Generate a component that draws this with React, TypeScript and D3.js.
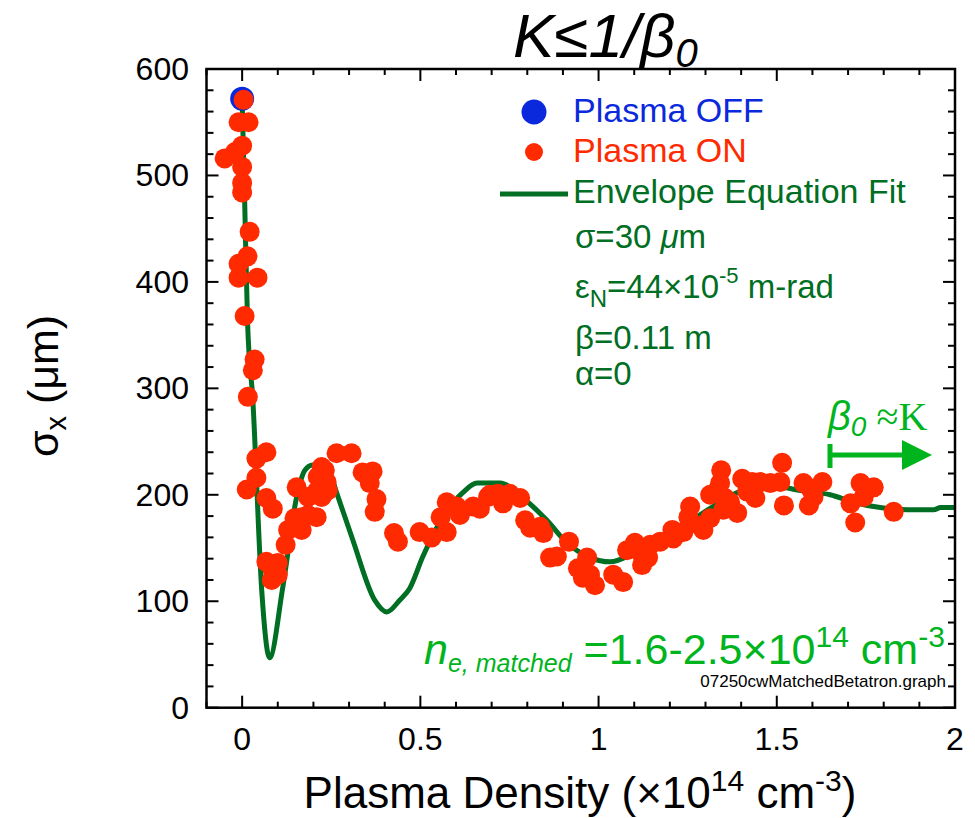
import React from 'react';
import * as d3 from 'd3';

const offX = [0.0];
const offY = [572];

const onX = [0.004, -0.01, 0.018, 0.0, -0.02, -0.049, 0.0, 0.0, 0.0, 0.021, 0.015, -0.01, -0.01, 0.043, 0.007, 0.035, 0.03, 0.016, 0.04, 0.068,
  0.04, 0.013, 0.068, 0.086, 0.068, 0.1, 0.086, 0.1, 0.083, 0.122, 0.129, 0.147, 0.167, 0.167, 0.185, 0.209, 0.153, 0.185, 0.209, 0.223,
  0.24, 0.237, 0.212, 0.232, 0.223, 0.265, 0.307, 0.338, 0.366, 0.358, 0.377, 0.372, 0.426, 0.437, 0.498, 0.532, 0.574, 0.557, 0.574, 0.602,
  0.611, 0.648, 0.69, 0.667, 0.695, 0.718, 0.732, 0.751, 0.78, 0.794, 0.808, 0.836, 0.845, 0.864, 0.883, 0.917, 0.942, 0.968, 0.956, 0.976,
  0.99, 1.041, 1.069, 1.08, 1.102, 1.117, 1.122, 1.139, 1.145, 1.173, 1.207, 1.21, 1.238, 1.252, 1.257, 1.285, 1.294, 1.313, 1.313, 1.333,
  1.341, 1.344, 1.355, 1.35, 1.369, 1.389, 1.403, 1.417, 1.44, 1.431, 1.454, 1.482, 1.51, 1.515, 1.52, 1.575, 1.594, 1.603, 1.59, 1.628,
  1.707, 1.72, 1.735, 1.744, 1.772, 1.828];
const onY = [571, 550, 550, 528, 522, 516, 508, 493, 484, 447, 424, 417, 404, 404, 368, 327, 317, 292, 234, 240,
  216, 205, 197, 187, 137, 136, 129, 125, 120, 153, 167, 178, 167, 179, 181, 179, 207, 198, 203, 198,
  204, 212, 217, 223, 226, 239, 239, 221, 222, 211, 196, 184, 164, 156, 165, 160, 165, 179, 193, 189,
  181, 189, 198, 187, 200, 201, 192, 201, 197, 176, 169, 170, 164, 141, 142, 156, 131, 141, 122, 125,
  115, 125, 118, 148, 155, 146, 134, 141, 153, 156, 167, 159, 165, 179, 189, 171, 167, 178, 200, 204,
  211, 223, 197, 186, 193, 183, 215, 203, 197, 212, 212, 211, 212, 230, 190, 211, 206, 198, 190, 212,
  192, 174, 211, 198, 207, 184];

const fitX = [0.0, 0.007, 0.015, 0.03, 0.055, 0.077, 0.114, 0.153, 0.176, 0.198, 0.246, 0.265, 0.31, 0.372, 0.406, 0.442, 0.47, 0.507,
  0.563, 0.619, 0.659, 0.695, 0.723, 0.788, 0.855, 0.911, 0.976, 1.032, 1.08, 1.136, 1.192, 1.249, 1.322, 1.389, 1.454, 1.51, 1.566,
  1.65, 1.715, 1.79, 1.866, 1.94, 1.96, 2.0];
const fitY = [571, 477, 364, 289, 110, 47, 113, 198, 223, 228, 220, 202, 158, 101, 90, 101, 112, 142,
  179, 202, 211, 211, 211, 197, 176, 155, 141, 137, 142, 155, 164, 174, 189, 202, 207, 207, 204,
  200, 193, 188, 186, 186, 188, 188];

const xMajor = [0, 0.5, 1, 1.5, 2];
const xLabels = ['0', '0.5', '1', '1.5', '2'];
const yMajor = [0, 100, 200, 300, 400, 500, 600];
const yLabels = ['0', '100', '200', '300', '400', '500', '600'];

const RED = '#ff2a00';
const BLUE = '#0a28dc';
const DKGREEN = '#006e23';
const LTGREEN = '#00b41e';
const FONT = '"Liberation Sans", Arial, Helvetica, sans-serif';

export default function App() {
  const L = 206.5, R = 955, T = 69, B = 707.7;
  const x = d3.scaleLinear().domain([-0.1, 2]).range([L, R]);
  const y = d3.scaleLinear().domain([0, 600]).range([B, T]);

  const xMinor = d3.range(-0.1, 2.0001, 0.1).map((v) => Math.round(v * 10) / 10);
  const yMinor = d3.range(0, 600.001, 20);

  const line = d3
    .line<number>()
    .x((_, i) => x(fitX[i]))
    .y((_, i) => y(fitY[i]))
    .curve(d3.curveMonotoneX);
  const fitPath = line(fitX) || '';

  const isXMajor = (v: number) => xMajor.some((m) => Math.abs(m - v) < 1e-6);
  const isYMajor = (v: number) => v % 100 === 0;

  return (
    <svg width={975} height={818} style={{ position: 'absolute', left: 0, top: 0, background: '#fff' }} fontFamily={FONT}>
      {/* title */}
      <text x={513} y={57} fontSize={62} fontStyle="italic" fill="#000">
        K≤1/β<tspan fontSize={40} dy={10}>0</tspan>
      </text>

      {/* fit line */}
      <path d={fitPath} fill="none" stroke={DKGREEN} strokeWidth={5} strokeLinejoin="round" />

      {/* points */}
      {offX.map((v, i) => (
        <circle key={'off' + i} cx={x(v)} cy={y(offY[i])} r={12} fill={BLUE} />
      ))}
      {onX.map((v, i) => (
        <circle key={'on' + i} cx={x(v)} cy={y(onY[i])} r={10} fill={RED} />
      ))}

      {/* frame */}
      <rect x={L} y={T} width={R - L} height={B - T} fill="none" stroke="#000" strokeWidth={2.5} />

      {/* x ticks */}
      {xMinor.map((v) => {
        const len = isXMajor(v) ? 12 : 6;
        const px = x(v);
        return (
          <g key={'xt' + v}>
            <line x1={px} x2={px} y1={B} y2={B - len} stroke="#000" strokeWidth={2} />
            <line x1={px} x2={px} y1={T} y2={T + len} stroke="#000" strokeWidth={2} />
          </g>
        );
      })}
      {/* y ticks */}
      {yMinor.map((v) => {
        const len = isYMajor(v) ? 12 : 7;
        const py = y(v);
        return (
          <g key={'yt' + v}>
            <line x1={L} x2={L + len} y1={py} y2={py} stroke="#000" strokeWidth={2} />
            <line x1={R} x2={R - len} y1={py} y2={py} stroke="#000" strokeWidth={2} />
          </g>
        );
      })}

      {/* tick labels */}
      {xMajor.map((v, i) => (
        <text key={'xl' + v} x={x(v)} y={750} fontSize={32} textAnchor="middle" fill="#000">
          {xLabels[i]}
        </text>
      ))}
      {yMajor.map((v, i) => (
        <text key={'yl' + v} x={189} y={y(v) + 11} fontSize={32} textAnchor="end" fill="#000">
          {yLabels[i]}
        </text>
      ))}

      {/* axis titles */}
      <text x={580} y={808} fontSize={44} textAnchor="middle" fill="#000">
        Plasma Density (×10<tspan fontSize={30} dy={-17}>14</tspan>
        <tspan dy={17}> cm</tspan>
        <tspan fontSize={30} dy={-17}>-3</tspan>
        <tspan dy={17}>)</tspan>
      </text>
      <text transform="translate(58,386) rotate(-90)" fontSize={43} textAnchor="middle" fill="#000">
        σ<tspan fontSize={29} dy={8}>x</tspan>
        <tspan dy={-8}> (μm)</tspan>
      </text>

      {/* legend */}
      <circle cx={534} cy={112} r={12.5} fill={BLUE} />
      <text x={573} y={122} fontSize={34} fill={BLUE}>Plasma OFF</text>
      <circle cx={534} cy={152} r={9} fill={RED} />
      <text x={573} y={162} fontSize={34} fill={RED}>Plasma ON</text>
      <line x1={500} x2={568} y1={194} y2={194} stroke={DKGREEN} strokeWidth={5} />
      <text x={573} y={203} fontSize={34} fill={DKGREEN}>Envelope Equation Fit</text>
      <text x={575} y={248} fontSize={33} fill={DKGREEN}>
        σ=30 <tspan fontStyle="italic">μ</tspan>m
      </text>
      <text x={575} y={298} fontSize={33} fill={DKGREEN}>
        ε<tspan fontSize={24} dy={9}>N</tspan>
        <tspan dy={-9}>=44×10</tspan>
        <tspan fontSize={22} dy={-15}>-5</tspan>
        <tspan dy={15}> m-rad</tspan>
      </text>
      <text x={575} y={349} fontSize={33} fill={DKGREEN}>β=0.11 m</text>
      <text x={575} y={385} fontSize={33} fill={DKGREEN}>α=0</text>

      {/* beta0 ≈ K annotation */}
      <text x={828} y={430} fontSize={40} fill={LTGREEN}>
        <tspan fontStyle="italic">β</tspan>
        <tspan fontStyle="italic" fontSize={28} dy={6}>0</tspan>
        <tspan dy={-6} fontFamily='"Liberation Serif", "Times New Roman", serif'> ≈K</tspan>
      </text>
      <line x1={830} x2={830} y1={444} y2={468} stroke={LTGREEN} strokeWidth={5} />
      <line x1={830} x2={905} y1={455} y2={455} stroke={LTGREEN} strokeWidth={5} />
      <path d="M902,440 L932,455 L902,470 Z" fill={LTGREEN} />

      {/* n_e matched */}
      <text x={424} y={664} fontSize={43} fill={LTGREEN}>
        <tspan fontStyle="italic">n</tspan>
        <tspan fontStyle="italic" fontSize={25} dy={8}>e, matched</tspan>
        <tspan dy={-8}> =1.6-2.5×10</tspan>
        <tspan fontSize={30} dy={-17}>14</tspan>
        <tspan dy={17}> cm</tspan>
        <tspan fontSize={30} dy={-17}>-3</tspan>
      </text>
      <text x={946} y={687} fontSize={17} textAnchor="end" fill="#000">07250cwMatchedBetatron.graph</text>
    </svg>
  );
}
